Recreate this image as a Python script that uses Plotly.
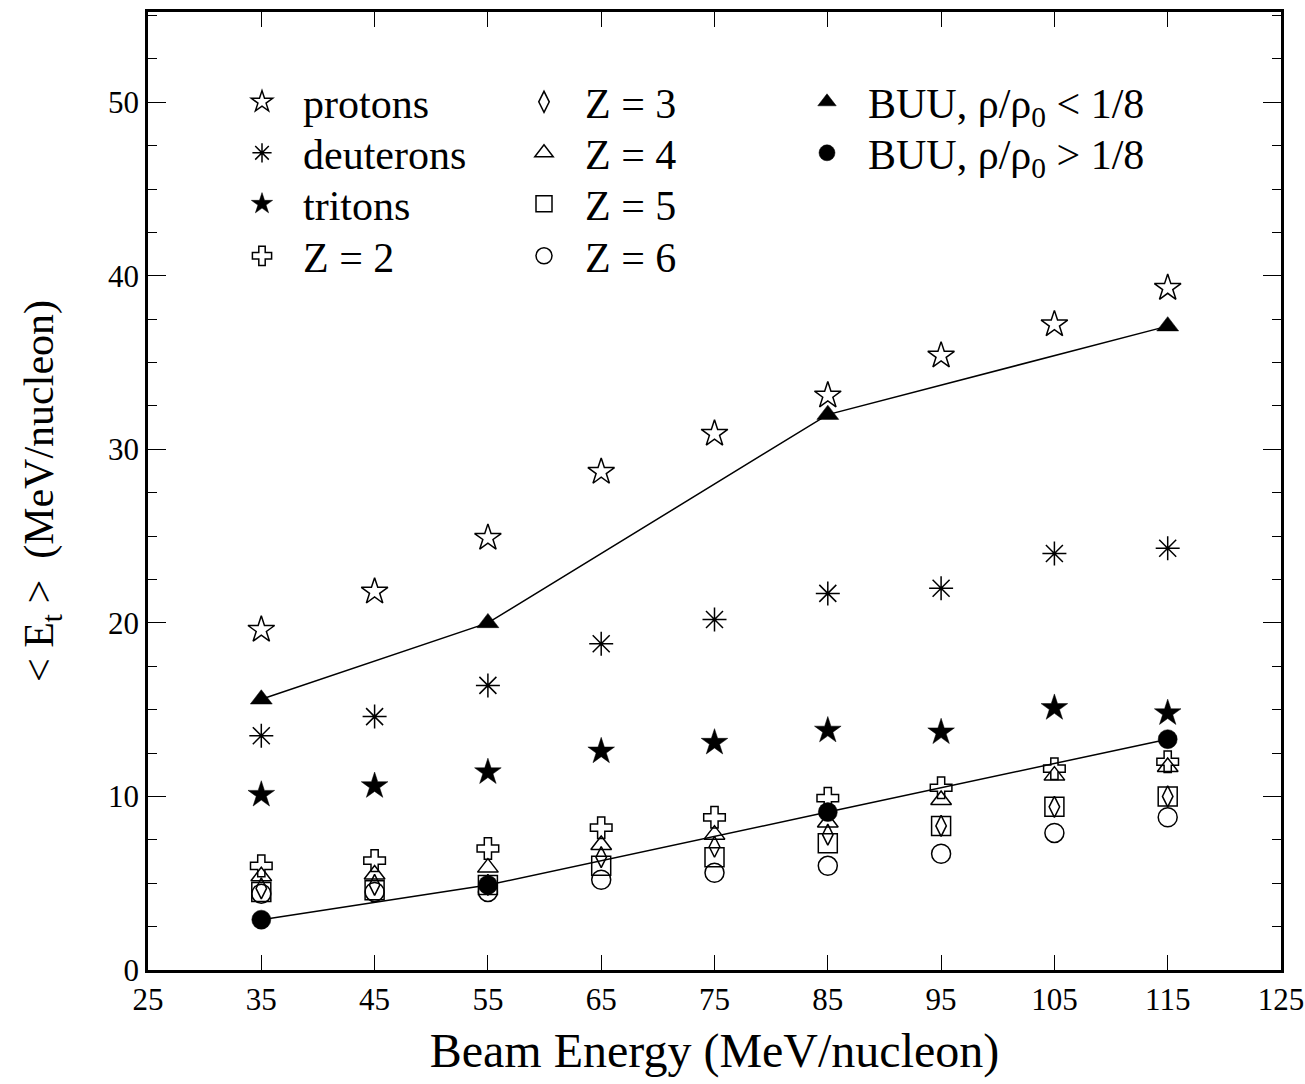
import plotly.graph_objects as go

beam = [35, 45, 55, 65, 75, 85, 95, 105, 115]
protons = [19.6, 21.8, 24.9, 28.7, 30.9, 33.1, 35.4, 37.2, 39.3]
deuterons = [13.5, 14.6, 16.4, 18.8, 20.2, 21.7, 22.0, 24.0, 24.3]
tritons = [10.1, 10.6, 11.4, 12.6, 13.1, 13.8, 13.7, 15.1, 14.8]
z2 = [6.0, 6.3, 7.0, 8.2, 8.8, 9.9, 10.5, 11.6, 12.0]
z3 = [4.7, 4.9, 4.9, 6.5, 7.1, 7.8, 8.3, 9.4, 10.0]
z4 = [5.4, 5.5, 5.9, 7.2, 7.8, 8.5, 9.8, 11.2, 11.7]
z5 = [4.5, 4.6, 4.9, 6.0, 6.5, 7.3, 8.3, 9.4, 10.0]
z6 = [4.4, 4.5, 4.5, 5.2, 5.6, 6.0, 6.7, 7.9, 8.8]
buu_x = [35, 55, 85, 115]
buu_low = [15.6, 20.0, 32.0, 37.1]
buu_high = [2.9, 4.9, 9.1, 13.3]

x_ticks = [25, 35, 45, 55, 65, 75, 85, 95, 105, 115, 125]
y_ticks = [0, 10, 20, 30, 40, 50]

FONT = "Liberation Serif"
K = "black"
W, H = 1305, 1084
ML, MR, MT, MB = 148, 24, 12, 114

def px2paper(px, py):
    return (px - ML) / (W - ML - MR), (H - MB - py) / (H - MT - MB)

fig = go.Figure()

for yy in (buu_low, buu_high):
    fig.add_trace(go.Scatter(x=buu_x, y=yy, mode="lines", showlegend=False,
                             line=dict(color=K, width=1.5), hoverinfo="skip"))

# legend slots: (marker area left px, row center px)
col_x = [242, 524, 807]
row_y = [102, 153, 204, 256]
legend_layout = {}
NB = "\u00a0\u00a0"

def pts(name, y, symbol, size, slot, lw=1.5, x=beam):
    idx = len(legend_layout) + 1
    key = "legend" if idx == 1 else f"legend{idx}"
    lx, ly = px2paper(col_x[slot[0]], row_y[slot[1]])
    legend_layout[key] = dict(
        x=lx, y=ly, xanchor="left", yanchor="middle",
        font=dict(family=FONT, size=42, color=K),
        bgcolor="rgba(0,0,0,0)", borderwidth=0, itemsizing="trace",
    )
    fig.add_trace(go.Scatter(
        x=x, y=y, mode="markers", name=NB + name, legend=key,
        marker=dict(symbol=symbol, size=size, color=K,
                    line=dict(color=K, width=lw)),
    ))

pts("Z = 6", z6, "circle-open", 19, (1, 3))
pts("Z = 5", z5, "square-open", 19, (1, 2))
pts("Z = 3", z3, "diamond-tall-open", 15, (1, 0))
pts("Z = 4", z4, "triangle-up-open", 18, (1, 1))
pts("Z = 2", z2, "cross-open", 18, (0, 3))
pts("protons", protons, "star-open", 20, (0, 0))
pts("deuterons", deuterons, "asterisk-open", 20, (0, 1))
pts("tritons", tritons, "star", 20, (0, 2), lw=0.5)
pts("BUU, ρ/ρ<sub>0</sub> &lt; 1/8", buu_low, "triangle-up", 19, (2, 0), lw=0.5, x=buu_x)
pts("BUU, ρ/ρ<sub>0</sub> &gt; 1/8", buu_high, "circle", 19, (2, 1), lw=0.5, x=buu_x)

fig.update_layout(**legend_layout)

fig.update_layout(
    width=W, height=H,
    margin=dict(l=ML, r=MR, t=MT, b=MB),
    paper_bgcolor="white", plot_bgcolor="white",
    font=dict(family=FONT, color=K),
    xaxis=dict(
        range=[25, 125], tickvals=x_ticks, ticktext=[str(v) for v in x_ticks],
        ticks="inside", ticklen=15, tickwidth=1.2, tickcolor=K,
        showline=True, linewidth=2.5, linecolor=K, mirror="ticks",
        showgrid=False, zeroline=False, automargin=False,
        tickfont=dict(family=FONT, size=31, color=K),
        title=dict(text="Beam Energy (MeV/nucleon)", font=dict(family=FONT, size=48, color=K), standoff=18),
    ),
    yaxis=dict(
        range=[0, 55.2], tickvals=y_ticks,
        ticks="inside", ticklen=18, tickwidth=1.2, tickcolor=K,
        minor=dict(dtick=2.5, ticks="inside", ticklen=9, tickwidth=1, tickcolor=K, showgrid=False),
        showline=True, linewidth=2.5, linecolor=K, mirror="ticks",
        showgrid=False, zeroline=False, automargin=False,
        tickfont=dict(family=FONT, size=31, color=K),
        title=dict(text="&lt; E<sub>t</sub> &gt;  (MeV/nucleon)", font=dict(family=FONT, size=42, color=K), standoff=42),
    ),
)

fig.write_html("out.html")
